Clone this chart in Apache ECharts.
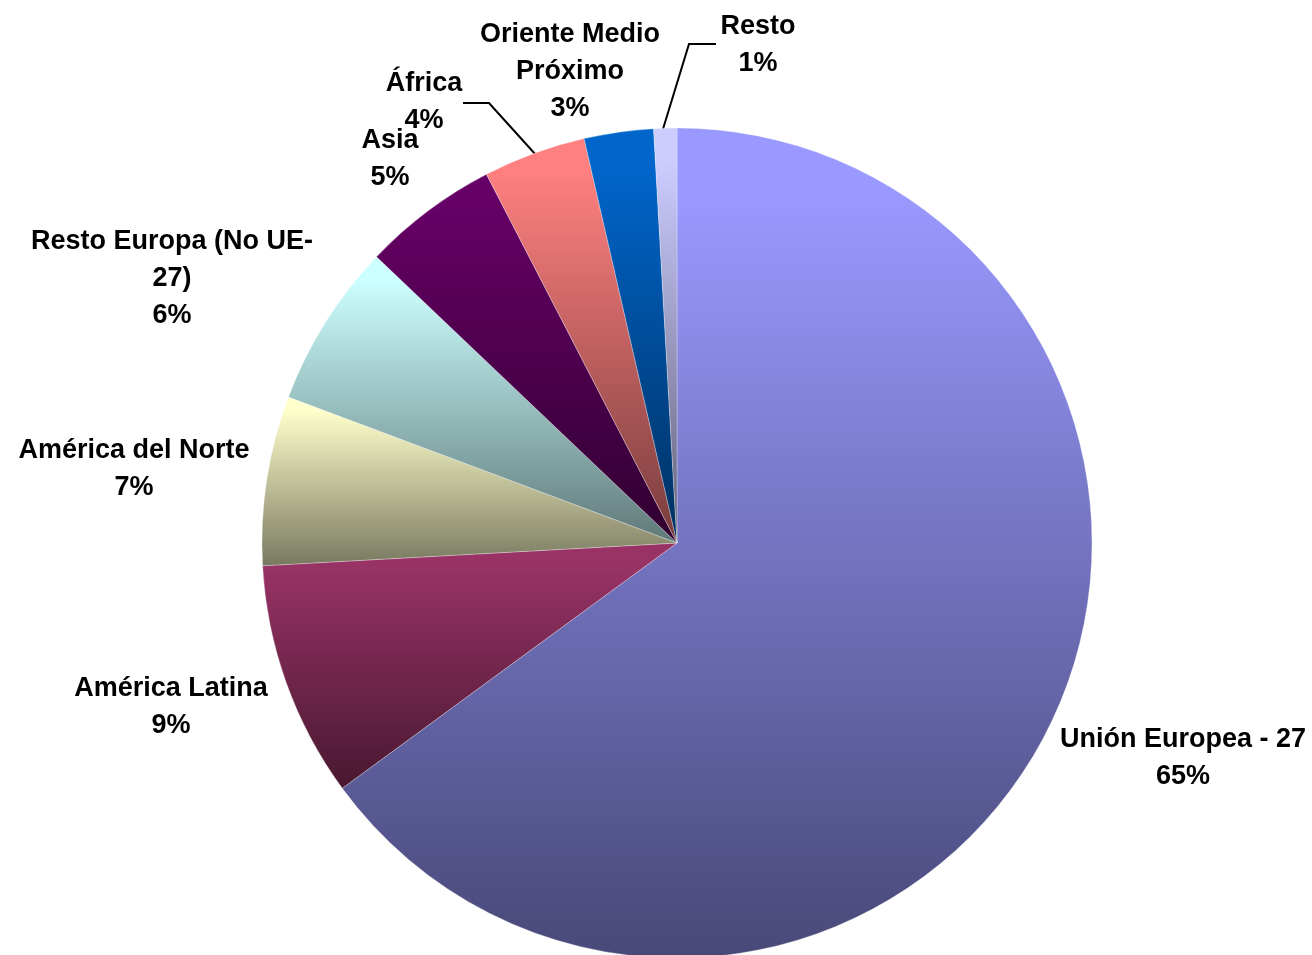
<!DOCTYPE html>
<html>
<head>
<meta charset="utf-8">
<script src="https://cdn.jsdelivr.net/npm/echarts@6/dist/echarts.min.js"></script>
<style>
html,body{margin:0;padding:0;background:#fff;}
#chart{width:1312px;height:955px;}
</style>
</head>
<body>
<div id="chart"></div>
<script>
// Data
var categories = ['Unión Europea - 27', 'América Latina', 'América del Norte', 'Resto Europa (No UE-27)', 'Asia', 'África', 'Oriente Medio Próximo', 'Resto'];
var labelTexts = ['Unión Europea - 27', 'América Latina', 'América del Norte', 'Resto Europa (No UE-\n27)', 'Asia', 'África', 'Oriente Medio\nPróximo', 'Resto'];
var values = [65.0, 9.2, 6.6, 6.4, 5.3, 4.0, 2.7, 0.9];
var baseColors = ['#9999FF', '#993366', '#FFFFCC', '#CCFFFF', '#660066', '#FF8080', '#0066CC', '#CCCCFF'];

function darken(hex, f) {
  var r = parseInt(hex.substr(1, 2), 16), g = parseInt(hex.substr(3, 2), 16), b = parseInt(hex.substr(5, 2), 16);
  return 'rgb(' + Math.round(r * f) + ',' + Math.round(g * f) + ',' + Math.round(b * f) + ')';
}

// label placement (centre of each label block)
var labelPos = [[1183, 758], [171, 707], [134, 469], [172, 279], [390, 159], [424, 102], [570, 72], [758, 45]];
var leaderLines = {
  5: [[536, 155], [489, 103], [463, 103]],
  7: [[663, 129], [689, 44], [716, 44]]
};

var chart = echarts.init(document.getElementById('chart'));
var data = categories.map(function (name, i) {
  return {
    name: name,
    value: values[i],
    itemStyle: {
      color: new echarts.graphic.LinearGradient(0, 0, 0, 1, [
        { offset: 0, color: baseColors[i] },
        { offset: 0.08, color: baseColors[i] },
        { offset: 1, color: darken(baseColors[i], 0.47) }
      ])
    },
    labelLine: { show: !!leaderLines[i] }
  };
});

chart.setOption({
  animation: false,
  backgroundColor: '#ffffff',
  series: [{
    type: 'pie',
    center: [677, 543],
    radius: 415,
    startAngle: 90,
    clockwise: true,
    percentPrecision: 0,
    avoidLabelOverlap: false,
    data: data,
    itemStyle: {
      borderColor: 'rgba(255,255,255,0.35)',
      borderWidth: 0.8
    },
    label: {
      show: true,
      position: 'outside',
      color: '#000',
      fontFamily: 'Liberation Sans, Arial, sans-serif',
      fontWeight: 'bold',
      fontSize: 27,
      lineHeight: 37,
      align: 'center',
      formatter: function (p) {
        return labelTexts[p.dataIndex] + '\n' + p.percent + '%';
      }
    },
    labelLine: {
      lineStyle: { color: '#000', width: 2 }
    },
    labelLayout: function (params) {
      var i = params.dataIndex;
      var res = {
        x: labelPos[i][0],
        y: labelPos[i][1],
        align: 'center',
        verticalAlign: 'middle'
      };
      if (leaderLines[i]) res.labelLinePoints = leaderLines[i];
      return res;
    }
  }]
});
</script>
</body>
</html>
